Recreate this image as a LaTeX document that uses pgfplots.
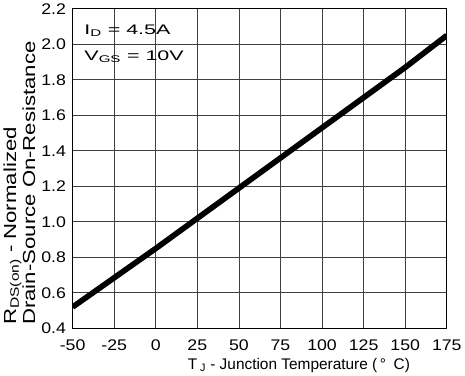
\documentclass[border=0pt]{standalone}
\usepackage{pgfplots}
\pgfplotsset{compat=1.18}
\usepackage{fontspec}
\setmainfont{Liberation Sans}
\newfontfamily\tickfont[FakeStretch=1.15]{Liberation Sans}
\newfontfamily\ylfont[FakeStretch=1.27]{Liberation Sans}
\newfontfamily\annfont[FakeStretch=1.55]{Liberation Sans}
\begin{document}
\begin{tikzpicture}
\begin{axis}[
  scale only axis,
  width=363bp, height=310bp,
  xmin=-50, xmax=175, ymin=0.4, ymax=2.2,
  xtick={-50,-25,0,25,50,75,100,125,150,175},
  ytick={0.4,0.6,0.8,1.0,1.2,1.4,1.6,1.8,2.0,2.2},
  yticklabel style={xshift=-3bp, /pgf/number format/fixed, /pgf/number format/fixed zerofill, /pgf/number format/precision=1},
  /pgf/number format/assume math mode=true,
  tick label style={font=\tickfont\fontsize{15}{18}\selectfont},
  xticklabel style={yshift=-8bp},
  grid=major,
  major grid style={black!75, line width=0.8pt},
  axis line style={black, line width=0.8pt},
  major tick length=0pt,
  xlabel={T\textsubscript{ J} - Junction Temperature (\,°\,\,\,C)},
  xlabel style={font=\fontsize{15}{18}\selectfont, yshift=0bp, xshift=38bp},
  ylabel={R\textsubscript{DS(on)} - Normalized\\Drain-Source On-Resistance},
  ylabel style={font=\ylfont\fontsize{17}{18.5}\selectfont, align=left, at={(ticklabel cs:0)}, anchor=south west, yshift=-1bp},
  clip=true,
]
\addplot[black, line width=5.5pt] coordinates {
(-50,0.52) (0,0.85) (25,1.02) (50,1.19) (75,1.36) (100,1.53) (125,1.70) (150,1.87) (175,2.05)
};
\node[anchor=base west, inner sep=0pt, font=\annfont\fontsize{13.5}{16}\selectfont] at (axis cs:-43,2.058) {I\textsubscript{D} = 4.5A};
\node[anchor=base west, inner sep=0pt, font=\annfont\fontsize{13.5}{16}\selectfont] at (axis cs:-43,1.91) {V\textsubscript{GS} = 10V};
\end{axis}
\end{tikzpicture}
\end{document}
